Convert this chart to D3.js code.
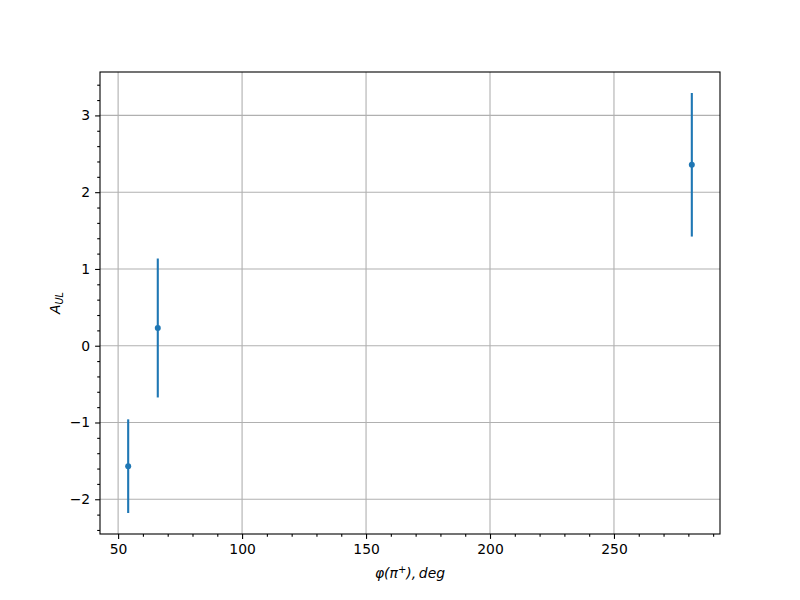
<!DOCTYPE html>
<html><head><meta charset="utf-8">
<script src="https://cdn.jsdelivr.net/npm/d3@7"></script>
<style>body{margin:0;background:#fff}svg{display:block}text{font-family:"DejaVu Sans",sans-serif}</style>
</head><body><svg id="c" width="800" height="600"></svg>
<script>
const phi = [54.06, 66.0, 281.4];
const aul = [-1.569, 0.231, 2.357];
const err = [0.61, 0.905, 0.935];
const xTicks = [50, 100, 150, 200, 250];
const yTicks = [-2, -1, 0, 1, 2, 3];

const svg = d3.select("#c");
const L=100,R=720,T=72,B=534;
const xmin=d3.min(phi), xmax=d3.max(phi), xm=(xmax-xmin)*0.05;
const lo=d3.min(aul.map((v,i)=>v-err[i])), hi=d3.max(aul.map((v,i)=>v+err[i])), ym=(hi-lo)*0.05;
const x=d3.scaleLinear().domain([xmin-xm,xmax+xm]).range([L,R]);
const y=d3.scaleLinear().domain([lo-ym,hi+ym]).range([B,T]);

// grid
const g=svg.append("g");
g.selectAll(".gx").data(xTicks).join("line").attr("x1",d=>x(d)).attr("x2",d=>x(d)).attr("y1",T).attr("y2",B).attr("stroke","#b0b0b0").attr("stroke-width",1.1);
g.selectAll(".gy").data(yTicks).join("line").attr("y1",d=>y(d)).attr("y2",d=>y(d)).attr("x1",L).attr("x2",R).attr("stroke","#b0b0b0").attr("stroke-width",1.1);

// axes
const xMinor=d3.range(50,300,10).filter(v=>v%50!==0 && x(v)>=L && x(v)<=R);
const yMinor=d3.range(-24,36,2).map(v=>v/10).filter(v=>Math.abs(v-Math.round(v))>1e-6 && y(v)>=T && y(v)<=B);
const xa=svg.append("g").attr("transform",`translate(0,${B})`).call(d3.axisBottom(x).tickValues(xTicks).tickSize(4.9).tickPadding(4.9).tickFormat(d3.format("d")));
const xa2=svg.append("g").attr("transform",`translate(0,${B})`).call(d3.axisBottom(x).tickValues(xMinor).tickSize(2.8).tickFormat(""));
const ya=svg.append("g").attr("transform",`translate(${L},0)`).call(d3.axisLeft(y).tickValues(yTicks).tickSize(4.9).tickPadding(4.9).tickFormat(d=>d<0?"\u2212"+Math.abs(d):d));
const ya2=svg.append("g").attr("transform",`translate(${L},0)`).call(d3.axisLeft(y).tickValues(yMinor).tickSize(2.8).tickFormat(""));
[xa,xa2,ya,ya2].forEach(a=>{a.select(".domain").remove();a.selectAll("line").attr("stroke","#000").attr("stroke-width",1.1);a.selectAll("text").attr("font-size",13.9).attr("fill","#000").attr("font-family","DejaVu Sans");});

// error bars
const pts=svg.append("g");
pts.selectAll(".eb").data(phi).join("line").attr("x1",(d)=>x(d)).attr("x2",d=>x(d))
 .attr("y1",(d,i)=>y(aul[i]-err[i])).attr("y2",(d,i)=>y(aul[i]+err[i])).attr("stroke","#1f77b4").attr("stroke-width",2.1);
pts.selectAll(".pt").data(phi).join("circle").attr("cx",d=>x(d)).attr("cy",(d,i)=>y(aul[i])).attr("r",3).attr("fill","#1f77b4");

// frame
svg.append("rect").attr("x",L).attr("y",T).attr("width",R-L).attr("height",B-T).attr("fill","none").attr("stroke","#000").attr("stroke-width",1.1);

// labels
const xl=svg.append("text").attr("x",(L+R)/2).attr("y",578).attr("text-anchor","middle").attr("font-size",13.9).attr("font-style","italic");
xl.append("tspan").text("φ(π");
xl.append("tspan").attr("dy",-5).attr("font-size",10).attr("font-style","normal").text("+");
xl.append("tspan").attr("dy",5).text("),\u2009deg");
const yl=svg.append("text").attr("transform",`translate(60,${(T+B)/2}) rotate(-90)`).attr("text-anchor","middle").attr("font-size",13.9).attr("font-style","italic");
yl.append("tspan").text("A");
yl.append("tspan").attr("dy",3).attr("font-size",9.7).text("UL");
</script></body></html>
